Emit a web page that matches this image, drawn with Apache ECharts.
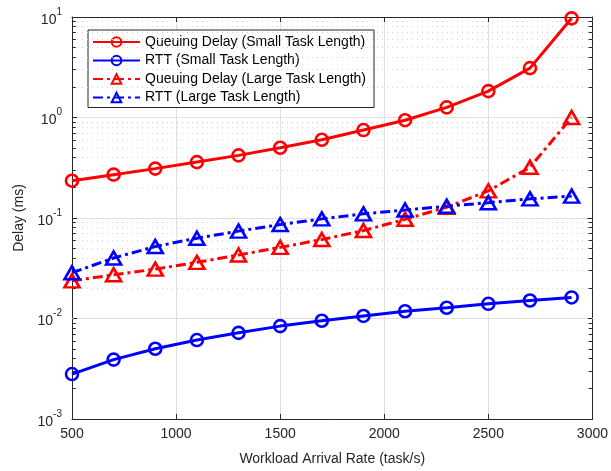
<!DOCTYPE html>
<html>
<head>
<meta charset="utf-8">
<script src="https://cdn.jsdelivr.net/npm/echarts@6/dist/echarts.min.js"></script>
<style>
  html, body { margin: 0; padding: 0; background: #fff; }
  #chart { width: 611px; height: 471px; }
</style>
</head>
<body>
<div id="chart"></div>
<script>
// workload arrival rate (task/s)
var rates = [500, 700, 900, 1100, 1300, 1500, 1700, 1900, 2100, 2300, 2500, 2700, 2900];
// delays in ms
var queueSmall = [0.235, 0.27, 0.31, 0.36, 0.42, 0.50, 0.60, 0.75, 0.94, 1.26, 1.83, 3.1, 9.7];
var rttSmall = [0.0028, 0.0039, 0.0050, 0.0061, 0.0072, 0.0084, 0.0095, 0.0106, 0.0118, 0.0128, 0.0140, 0.0151, 0.0162];
var queueLarge = [0.0237, 0.0272, 0.031, 0.0362, 0.0428, 0.051, 0.061, 0.075, 0.097, 0.128, 0.186, 0.32, 1.0];
var rttLarge = [0.0285, 0.040, 0.052, 0.063, 0.074, 0.086, 0.098, 0.110, 0.120, 0.131, 0.142, 0.155, 0.165];
var seriesNames = [
  "Queuing Delay (Small Task Length)",
  "RTT (Small Task Length)",
  "Queuing Delay (Large Task Length)",
  "RTT (Large Task Length)"
];
// minor grid values on the log axis
var minorVals = [];
[0.001, 0.01, 0.1, 1].forEach(function (d) {
  for (var k = 2; k <= 9; k++) minorVals.push(+(k * d).toPrecision(3));
});

var chart = echarts.init(document.getElementById("chart"));
var axisColor = "#262626";
var font = "Liberation Sans, Arial, Helvetica, sans-serif";

function pairs(arr) {
  return rates.map(function (x, i) { return [x, arr[i]]; });
}

function makeSeries(name, data, color, symbol, dashed) {
  return {
    name: name,
    type: "line",
    data: pairs(data),
    symbol: symbol,
    symbolSize: symbol === "circle" ? 12 : [15, 13],
    lineStyle: { color: color, width: 3, type: dashed ? [10, 4, 3, 4] : "solid" },
    itemStyle: { color: "rgba(255,255,255,0)", borderColor: color, borderWidth: 2.6 },
    z: 5,
    animation: false
  };
}

var minorLines = minorVals.map(function (v) { return { yAxis: v }; });
var minorTicks = [];
minorVals.forEach(function (v) {
  minorTicks.push([{ coord: [500, v] }, { coord: [518, v] }]);
  minorTicks.push([{ coord: [2982, v] }, { coord: [3000, v] }]);
});

var option = {
  backgroundColor: "#fff",
  animation: false,
  textStyle: { fontFamily: font },
  grid: { left: 72, right: 18, top: 17, bottom: 49 },
  legend: {
    data: seriesNames,
    orient: "vertical",
    left: 88,
    top: 30,
    itemWidth: 47,
    itemHeight: 12,
    itemGap: 4.5,
    padding: [5, 8, 3, 4],
    backgroundColor: "#fff",
    borderColor: axisColor,
    borderWidth: 1,
    textStyle: { fontSize: 14, color: "#000", fontFamily: font }
  },
  xAxis: [
    {
      type: "value",
      min: 500,
      max: 3000,
      interval: 500,
      name: "Workload Arrival Rate (task/s)",
      nameLocation: "middle",
      nameGap: 33,
      nameTextStyle: { fontSize: 14, color: axisColor },
      axisLine: { lineStyle: { color: axisColor, width: 1 } },
      axisTick: { inside: true, length: 5, lineStyle: { color: axisColor } },
      axisLabel: { fontSize: 14, color: axisColor, margin: 8, formatter: function (v) { return String(v); } },
      splitLine: { show: true, lineStyle: { color: "#e0e0e0", width: 1 } }
    },
    {
      type: "value",
      position: "top",
      min: 500,
      max: 3000,
      interval: 500,
      axisLine: { lineStyle: { color: axisColor, width: 1 } },
      axisTick: { inside: true, length: 5, lineStyle: { color: axisColor } },
      axisLabel: { show: false },
      splitLine: { show: false }
    }
  ],
  yAxis: [
    {
      type: "log",
      logBase: 10,
      min: 0.001,
      max: 10,
      interval: 1,
      name: "Delay (ms)",
      nameLocation: "middle",
      nameGap: 46,
      nameTextStyle: { fontSize: 14, color: axisColor },
      axisLine: { show: true, lineStyle: { color: axisColor, width: 1 } },
      axisTick: { inside: true, length: 5, lineStyle: { color: axisColor } },
      axisLabel: {
        color: axisColor,
        margin: 10,
        formatter: function (v) {
          return "{b|10}{s|" + Math.round(Math.log10(v)) + "}";
        },
        rich: {
          b: { fontSize: 14, color: axisColor, fontFamily: font, verticalAlign: "bottom", lineHeight: 20 },
          s: { fontSize: 10, color: axisColor, fontFamily: font, verticalAlign: "top", lineHeight: 20 }
        }
      },
      splitLine: { show: true, lineStyle: { color: "#e0e0e0", width: 1 } }
    },
    {
      type: "log",
      logBase: 10,
      min: 0.001,
      max: 10,
      interval: 1,
      position: "right",
      axisLine: { show: true, lineStyle: { color: axisColor, width: 1 } },
      axisTick: { inside: true, length: 5, lineStyle: { color: axisColor } },
      axisLabel: { show: false },
      splitLine: { show: false }
    }
  ],
  series: [
    {
      name: "minor",
      type: "line",
      data: [],
      silent: true,
      z: 1,
      markLine: {
        silent: true,
        symbol: "none",
        label: { show: false },
        lineStyle: { color: "#d2d2d2", width: 1, type: [1, 4] },
        data: minorLines,
        animation: false
      }
    },
    {
      name: "minorTicks",
      type: "line",
      data: [],
      silent: true,
      z: 2,
      markLine: {
        silent: true,
        symbol: "none",
        label: { show: false },
        lineStyle: { color: axisColor, width: 1, type: "solid" },
        data: minorTicks,
        animation: false
      }
    },
    makeSeries(seriesNames[0], queueSmall, "#ff0000", "circle", false),
    makeSeries(seriesNames[1], rttSmall, "#0000ff", "circle", false),
    makeSeries(seriesNames[2], queueLarge, "#ff0000", "triangle", true),
    makeSeries(seriesNames[3], rttLarge, "#0000ff", "triangle", true)
  ]
};

chart.setOption(option);
</script>
</body>
</html>
